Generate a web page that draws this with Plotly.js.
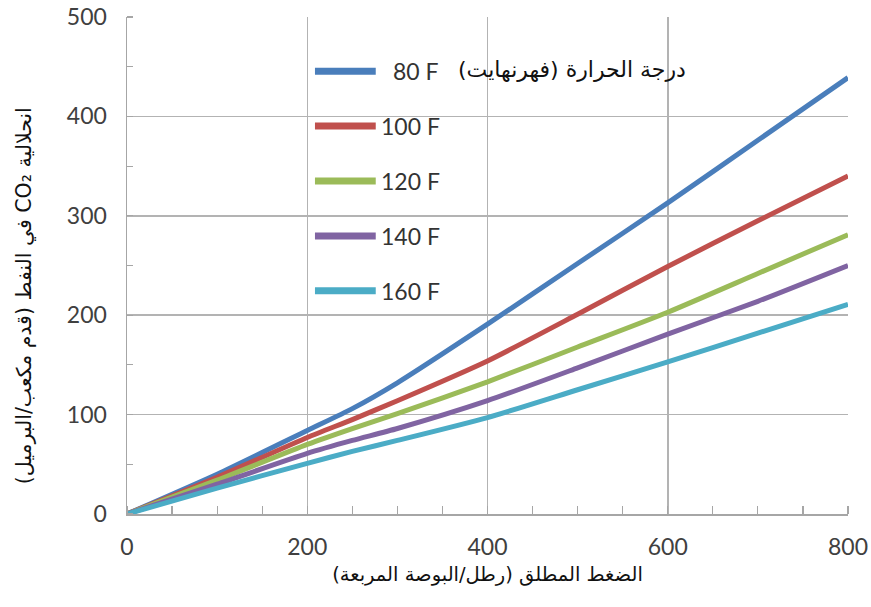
<!DOCTYPE html>
<html>
<head>
<meta charset="utf-8">
<script src="https://cdn.plot.ly/plotly-3.0.1.min.js"></script>
<style>
  html, body { margin: 0; padding: 0; background: #ffffff; }
  #chart { width: 871px; height: 607px; }
</style>
</head>
<body>
<div id="chart"></div>
<script>
// Absolute pressure (psi)
const pressure = [0, 100, 200, 250, 300, 400, 500, 600, 700, 800];

// CO2 solubility in oil (cubic feet / barrel) at each temperature
const sol80F  = [0, 40, 84, 106, 132, 191, 252, 313, 376, 439];
const sol100F = [0, 37, 77, 95, 114, 154, 201, 249, 295, 340];
const sol120F = [0, 34, 70, 86, 101, 133, 168, 203, 242, 281];
const sol140F = [0, 30, 61, 74, 86, 114, 147, 181, 214, 250];
const sol160F = [0, 26, 51, 63, 74, 97, 125, 153, 182, 211];

const seriesNames  = ['80 F', '100 F', '120 F', '140 F', '160 F'];
const seriesValues = [sol80F, sol100F, sol120F, sol140F, sol160F];
const seriesColors = ['#4A7EBB', '#C0504D', '#9BBB59', '#8064A2', '#4BACC6'];

const xTickVals = [0, 200, 400, 600, 800];
const yTickVals = [0, 100, 200, 300, 400, 500];

// Wrap Arabic strings in a right-to-left embedding so mixed runs order correctly
const rtl = s => '\u202B' + s + '\u202C';
const legendHeading = rtl('درجة الحرارة (فهرنهايت)');
const xTitle = rtl('الضغط المطلق (رطل/البوصة المربعة)');
const yTitle = rtl('انحلالية CO₂ في النفط (قدم مكعب/البرميل)');

const tickFont = { family: 'Lato, "Open Sans", sans-serif', size: 23, color: '#404040' };
const arabicFamily = '"DejaVu Sans", sans-serif';
const gridColor = '#b3b3b3';

const traces = seriesValues.map((vals, i) => ({
  type: 'scatter',
  mode: 'lines',
  x: pressure,
  y: vals,
  name: seriesNames[i],
  line: { color: seriesColors[i], width: 5, shape: 'spline', smoothing: 0.6 },
  showlegend: false,
  hoverinfo: 'skip'
}));

// Hand-built key: a thick swatch and a label per series, stacked top-down
const keyTop = 0.891, keyStep = 0.1105;
const keyX0 = 0.2607, keyX1 = 0.345;
const shapes = [];
const annotations = [];
seriesNames.forEach((name, i) => {
  const yy = keyTop - i * keyStep;
  shapes.push({
    type: 'line', xref: 'paper', yref: 'paper',
    x0: keyX0, x1: keyX1, y0: yy, y1: yy,
    line: { color: seriesColors[i], width: 7 }
  });
  annotations.push({
    xref: 'paper', yref: 'paper',
    x: i === 0 ? 0.366 : 0.349, y: yy,
    xanchor: 'left', yanchor: 'middle',
    text: name, showarrow: false,
    font: { family: tickFont.family, size: 23, color: '#333333' }
  });
});
annotations.push({
  xref: 'paper', yref: 'paper',
  x: 0.778, y: keyTop + 0.004,
  xanchor: 'right', yanchor: 'middle',
  text: legendHeading, showarrow: false,
  font: { family: arabicFamily, size: 22, color: '#111111' }
});
// Vertical axis title, rotated to read bottom-to-top
annotations.push({
  xref: 'paper', yref: 'paper',
  x: -0.143, y: 0.44,
  xanchor: 'center', yanchor: 'middle',
  textangle: -90,
  text: yTitle, showarrow: false,
  font: { family: arabicFamily, size: 20.5, color: '#111111' }
});

const layout = {
  width: 871,
  height: 607,
  margin: { l: 127, r: 23, t: 17, b: 93 },
  paper_bgcolor: '#ffffff',
  plot_bgcolor: '#ffffff',
  showlegend: false,
  xaxis: {
    range: [0, 800],
    tickvals: xTickVals,
    ticks: '',
    showgrid: true,
    gridcolor: gridColor,
    gridwidth: 1.5,
    showline: true,
    linecolor: '#a6a6a6',
    linewidth: 1.5,
    zeroline: false,
    tickfont: tickFont,
    ticklabelstandoff: 12,
    minor: { dtick: 50, ticks: 'inside', ticklen: 8, tickcolor: '#a6a6a6', tickwidth: 1.2, showgrid: false },
    title: { text: xTitle, font: { family: arabicFamily, size: 19.5, color: '#111111' }, standoff: 8 }
  },
  yaxis: {
    range: [0, 500],
    tickvals: yTickVals,
    ticks: '',
    showgrid: true,
    gridcolor: gridColor,
    gridwidth: 1.5,
    showline: true,
    linecolor: '#a6a6a6',
    linewidth: 1.5,
    zeroline: false,
    tickfont: tickFont,
    ticklabelstandoff: 14,
    minor: { dtick: 50, ticks: 'inside', ticklen: 6, tickcolor: '#a6a6a6', tickwidth: 1.2, showgrid: false }
  },
  shapes: shapes,
  annotations: annotations
};

Plotly.newPlot('chart', traces, layout, { displayModeBar: false, staticPlot: true });
</script>
</body>
</html>
